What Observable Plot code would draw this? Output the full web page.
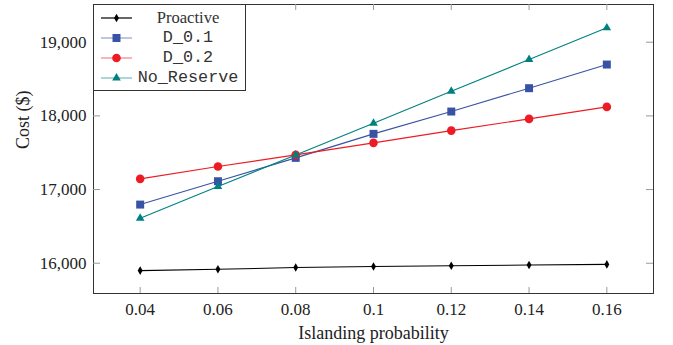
<!DOCTYPE html>
<html>
<head>
<meta charset="utf-8">
<script src="https://cdn.jsdelivr.net/npm/d3@7"></script>
<script src="https://cdn.jsdelivr.net/npm/@observablehq/plot@0.6"></script>
<style>
  html, body { margin: 0; padding: 0; background: #fff; }
  #wrap { position: relative; width: 673px; height: 345px; }
  #legend { position: absolute; left: 93px; top: 4px; width: 153px; height: 87px;
    border: 1px solid #333; background: #fff; box-sizing: border-box; }
  .row { position: absolute; left: 0; width: 152px; height: 20px; }
  .row svg { position: absolute; left: 0; top: 0; }
  .lbl { position: absolute; left: 38px; width: 112px; text-align: center; top: 0; line-height: 20px; color: #333; }
  .serif { font-family: "Liberation Serif", serif; font-size: 16.6px; }
  .mono { font-family: "Liberation Mono", monospace; font-size: 16.8px; }
</style>
</head>
<body>
<div id="wrap"></div>
<script>
const probability = [0.04, 0.06, 0.08, 0.1, 0.12, 0.14, 0.16];
const proactive = [15900, 15918, 15941, 15955, 15965, 15975, 15984];
const d01 = [16796, 17113, 17430, 17756, 18059, 18376, 18697];
const d02 = [17145, 17312, 17471, 17634, 17800, 17959, 18122];
const noReserve = [16610, 17040, 17470, 17900, 18335, 18765, 19195];
const seriesNames = ["Proactive", "D_0.1", "D_0.2", "No_Reserve"];
const seriesValues = [proactive, d01, d02, noReserve];
const colors = ["#000000", "#3953a4", "#ed1c24", "#008080"];
const symbols = ["diamond", "square", "circle", "triangle"];
const radii = [2.6, 4.5, 4.3, 3.2];
const xTicks = [0.04, 0.06, 0.08, 0.1, 0.12, 0.14, 0.16];
const yTicks = [16000, 17000, 18000, 19000];

const marks = [
  Plot.frame({stroke: "#333", strokeWidth: 1}),
  Plot.tickX(xTicks, {x: d => d, insetTop: 283, stroke: "#999"}),
  Plot.tickX(xTicks, {x: d => d, insetBottom: 283, stroke: "#999"}),
  Plot.tickY(yTicks, {y: d => d, insetRight: 553, stroke: "#999"}),
  Plot.tickY(yTicks, {y: d => d, insetLeft: 553, stroke: "#999"}),
  Plot.axisX({ticks: xTicks, tickSize: 0, tickPadding: 9, tickFormat: d => String(d), label: null, fontSize: 17}),
  Plot.axisY({ticks: yTicks, tickSize: 0, tickPadding: 7, tickFormat: d3.format(","), label: null, fontSize: 17}),
  Plot.text(["Islanding probability"], {frameAnchor: "bottom", lineAnchor: "bottom", dy: 45, fontSize: 18, fill: "#222"}),
  Plot.text(["Cost ($)"], {frameAnchor: "left", dx: -70, rotate: -90, fontSize: 18, fill: "#222"})
];
seriesValues.forEach((vals, i) => {
  const rows = probability.map((p, j) => ({p, v: vals[j]}));
  marks.push(Plot.line(rows, {x: "p", y: "v", stroke: colors[i], strokeWidth: 1.1}));
  marks.push(Plot.dot(rows, {x: "p", y: "v", symbol: symbols[i], r: radii[i], fill: colors[i], stroke: "none"}));
});

const chart = Plot.plot({
  width: 673, height: 345,
  marginLeft: 93, marginRight: 20, marginTop: 4, marginBottom: 52,
  x: {domain: [0.028, 0.172]},
  y: {domain: [15589, 19512]},
  style: {fontFamily: "Liberation Serif", fontSize: "17px", color: "#222", background: "#fff"},
  marks
});
const wrap = document.getElementById("wrap");
wrap.appendChild(chart);

// legend
const legend = document.createElement("div");
legend.id = "legend";
const ns = "http://www.w3.org/2000/svg";
seriesNames.forEach((name, i) => {
  const row = document.createElement("div");
  row.className = "row";
  row.style.top = (3 + i * 20) + "px";
  const svg = document.createElementNS(ns, "svg");
  svg.setAttribute("width", 40); svg.setAttribute("height", 20);
  const ln = document.createElementNS(ns, "line");
  ln.setAttribute("x1", 7); ln.setAttribute("x2", 38); ln.setAttribute("y1", 10); ln.setAttribute("y2", 10);
  ln.setAttribute("stroke", colors[i]); ln.setAttribute("stroke-width", 1.2);
  ln.setAttribute("stroke-opacity", i === 0 ? 1 : 0.55);
  svg.appendChild(ln);
  const path = document.createElementNS(ns, "path");
  const sym = {diamond: d3.symbolDiamond, square: d3.symbolSquare, circle: d3.symbolCircle, triangle: d3.symbolTriangle}[symbols[i]];
  path.setAttribute("d", d3.symbol(sym, Math.PI * radii[i] * radii[i])());
  path.setAttribute("transform", "translate(22.5,10)");
  path.setAttribute("fill", colors[i]);
  svg.appendChild(path);
  row.appendChild(svg);
  const lbl = document.createElement("div");
  lbl.className = "lbl " + (i === 0 ? "serif" : "mono");
  lbl.textContent = name;
  row.appendChild(lbl);
  legend.appendChild(row);
});
wrap.appendChild(legend);
</script>
</body>
</html>
